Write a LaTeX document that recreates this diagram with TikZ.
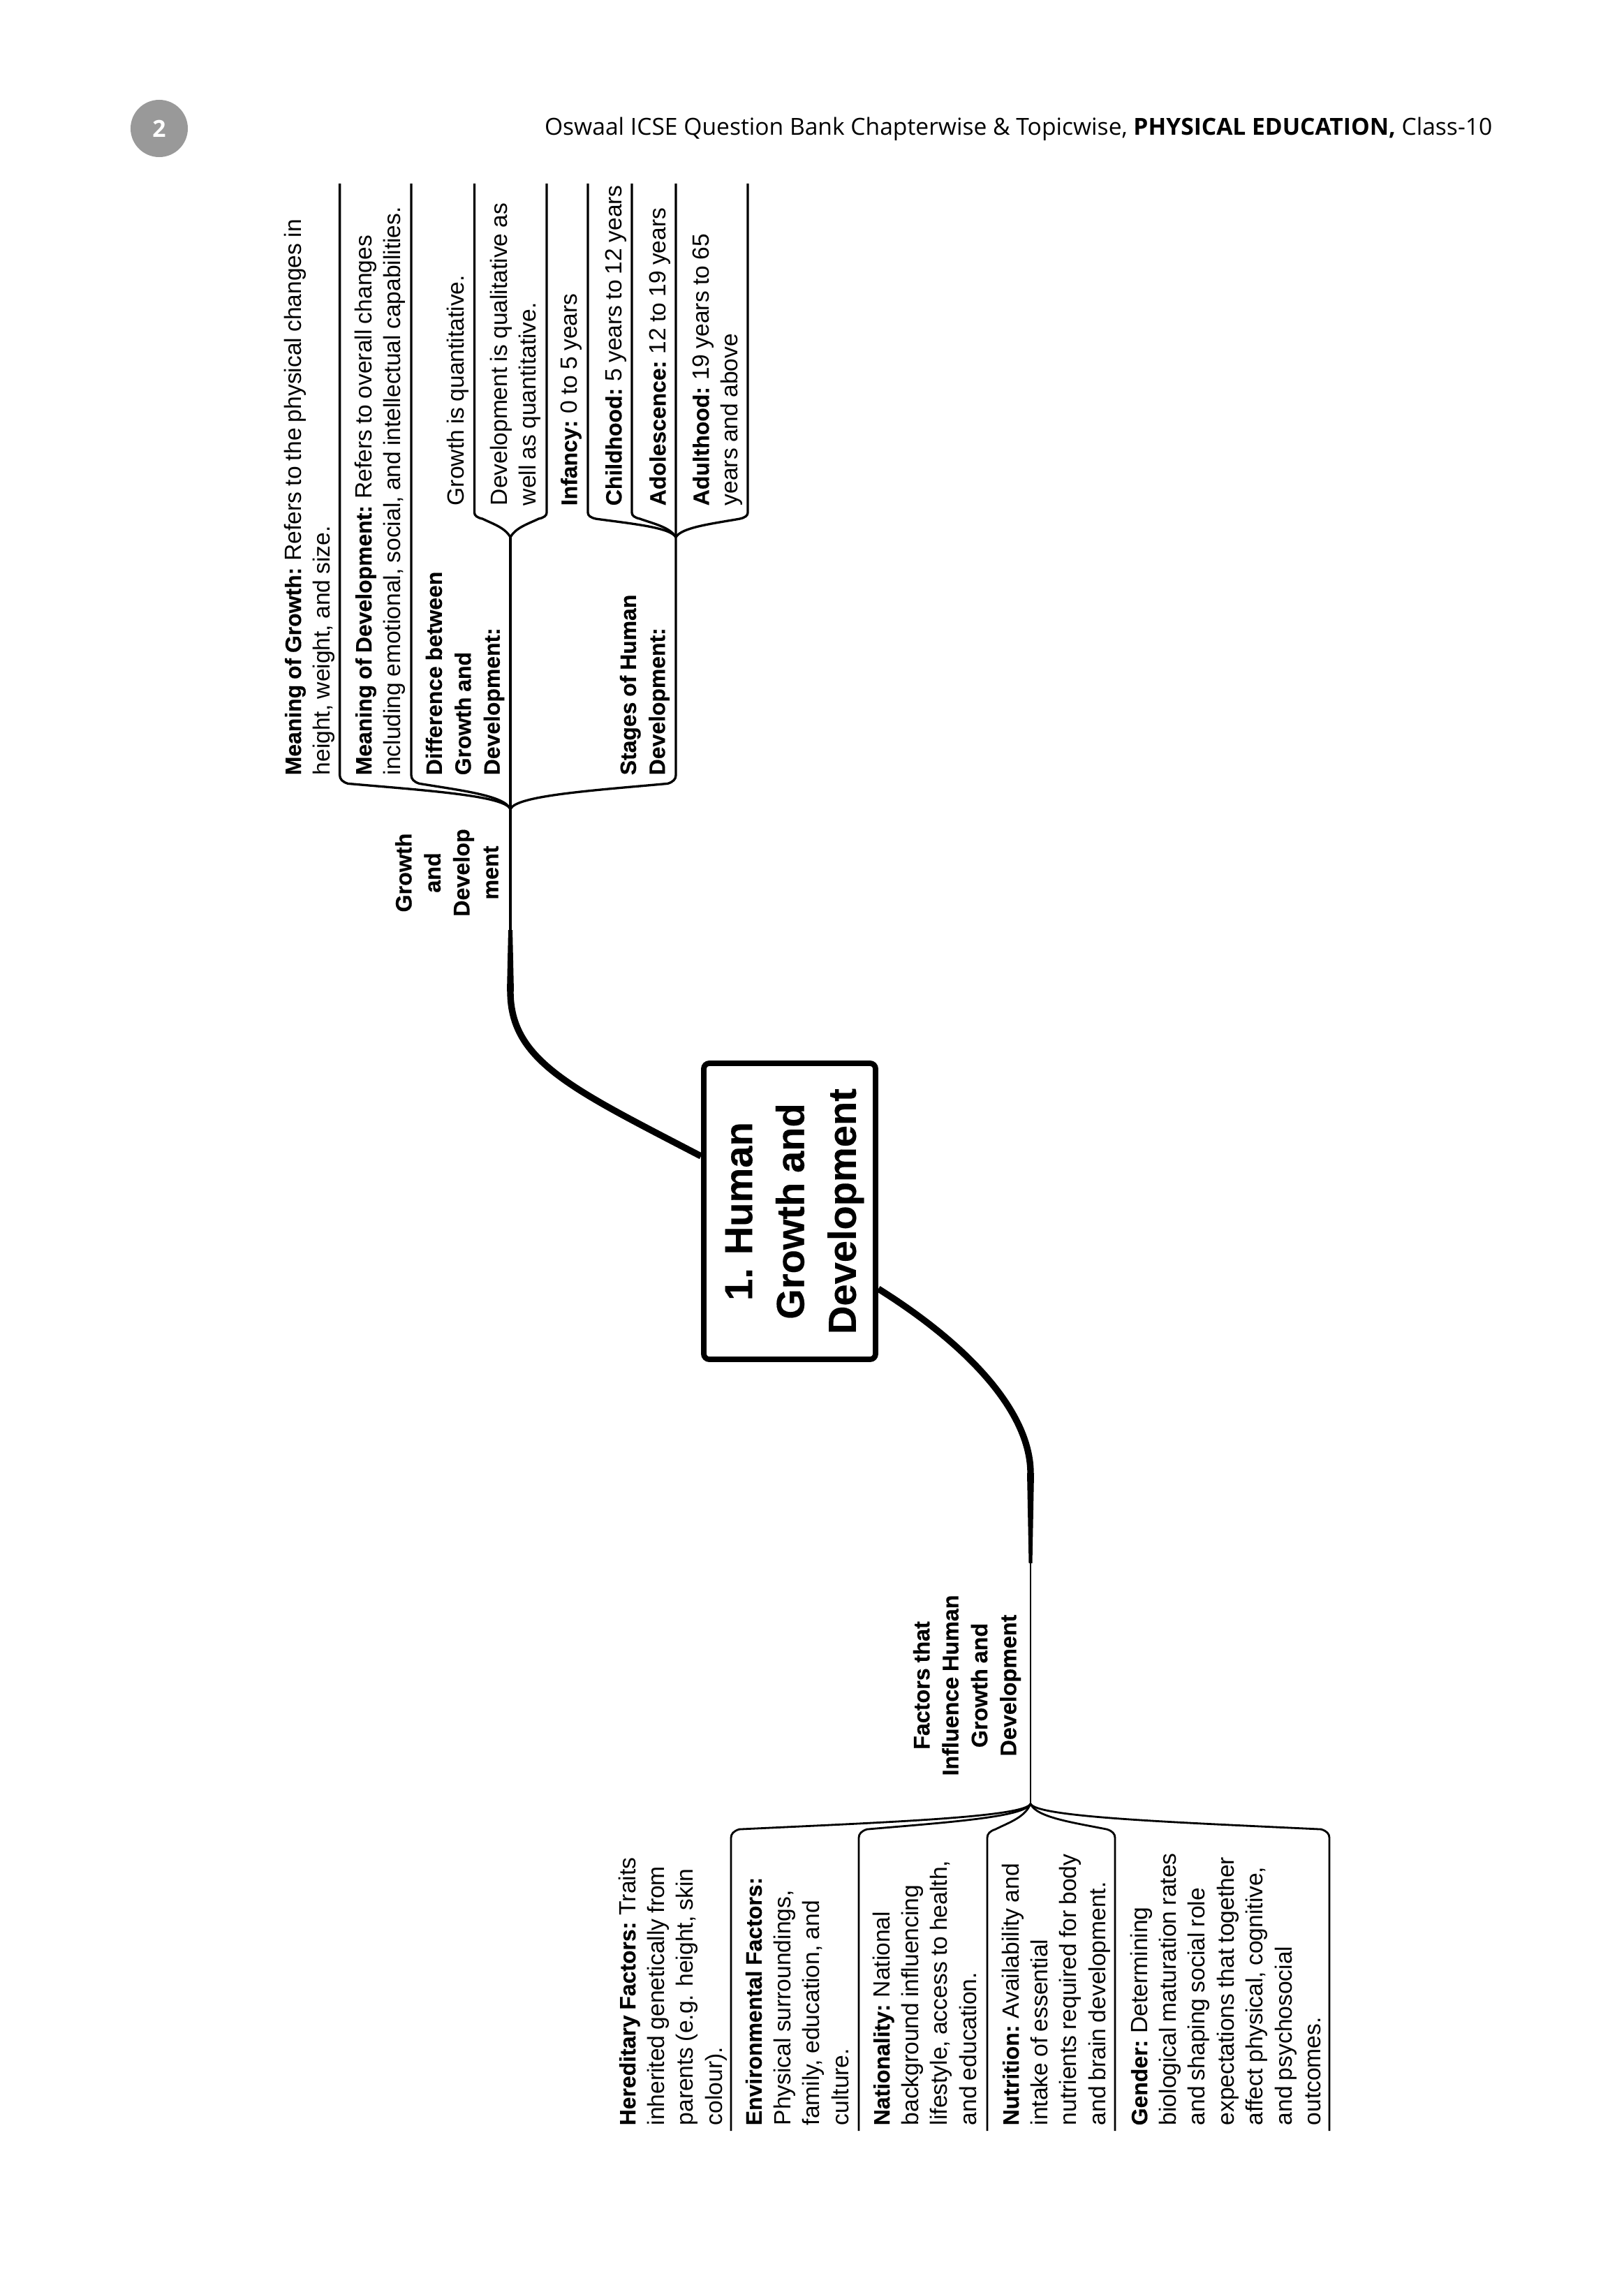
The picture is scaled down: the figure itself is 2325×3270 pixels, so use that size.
\documentclass[tikz,border=0pt]{standalone}
\usepackage{fontspec}
\setmainfont{Liberation Sans}[WordSpace=0.88,BoldFeatures={Scale=0.95,FakeBold=0.3}]
\newfontfamily\headfont{Open Sans}
\usetikzlibrary{calc}

\tikzset{
  branch/.style = {line width=0.85pt, line join=round},
  lowbranch/.style = {line width=0.72pt, line join=round},
  stem/.style = {line width=1.1pt},
  trunk/.style = {line width=2.4pt},
  leaf/.style = {rotate=90, anchor=north west, align=left, inner sep=0pt,
      font=\fontsize{8.6}{10.6}\selectfont},
  head/.style = {rotate=90, anchor=center, align=center, inner sep=0pt,
      font=\fontsize{8.7}{10.6}\selectfont\bfseries},
  title/.style = {rotate=90, draw, line width=2pt, rounded corners=2pt, align=center,
      anchor=center, inner sep=0pt, minimum width=424*0.256pt, minimum height=246*0.256pt,
      font=\fontsize{15.1}{19}\selectfont\bfseries},
}

\newcommand{\lab}[1]{\textbf{#1}\hspace{-0.5pt}}

\newcommand{\fork}[4]{%
  \draw[#4] let \p1=(#1), \p2=(#2), \n1={sign(\x2-\x1)} in
    (\p1) .. controls ({\x1+\n1*2pt},{\y1+0.4*(#3)}) and ({0.5*\x1+0.5*\x2},{\y1+0.55*(#3)})
    .. ({\x2-\n1*3pt},{\y1+0.75*(#3)})
    .. controls ({\x2-\n1*1pt},{\y1+0.8*(#3)}) and (\x2,{\y1+0.88*(#3)})
    .. (\x2,{\y1+(#3)}) -- (\p2);}

\begin{document}
\begin{tikzpicture}[x=0.256pt, y=-0.256pt]
  \useasboundingbox (0,0) rectangle (2325,3270);

  % page head
  \node (pagenum) at (228,184) [circle, fill=black!40, text=white, inner sep=0pt,
    minimum size=21pt, font=\headfont\fontsize{8.6}{11}\selectfont\bfseries] {2};
  \node (runhead) at (2138,185) [anchor=east, inner sep=0pt,
    font=\headfont\fontsize{8.6}{11}\selectfont]
    {Oswaal ICSE Question Bank Chapterwise \& Topicwise, \textbf{PHYSICAL EDUCATION,} Class-10};

  % centre and the two big stems
  \node (centre) at (1131,1735) [title] {\rule{0pt}{13.5pt}1. Human\\Growth and\\Development};
  \coordinate (upjoin) at (731,1159);
  \coordinate (diffjoin) at (731,769.5);
  \coordinate (stagejoin) at (968,769.5);
  \coordinate (lowjoin) at (1476,2583.5);
  \coordinate (upbend) at (731,1420);
  \coordinate (lowbend) at (1476,2110);
  \coordinate (upout) at (1004,1656);
  \coordinate (lowout) at (1258,1846);

  \draw[trunk] (upout) .. controls (820,1560) and (731,1520) .. (upbend);
  \draw[trunk] (lowout) .. controls (1400,1935) and (1476,2030) .. (lowbend);
  \fill (726,1420) -- (728,1332) -- (734,1332) -- (736,1420) -- cycle;
  \fill (1471,2110) -- (1473.5,2239) -- (1478.5,2239) -- (1481,2110) -- cycle;
  \draw[stem] (upjoin) -- (upbend);
  \draw[branch] (upjoin) -- (diffjoin);
  \draw[lowbranch] (lowjoin) -- (lowbend);

  % ends of the brackets
  \foreach \nm/\xpos in {topa/486.6, topb/589, topc/968, diffa/679.5, diffb/783,
      stagea/842, stageb/905, stagec/1071}
    \coordinate (\nm) at (\xpos,263);
  \foreach \nm/\xpos in {lowa/1047, lowb/1230, lowc/1414, lowd/1597, lowe/1904}
    \coordinate (\nm) at (\xpos,3052);

  \foreach \nm in {topa,topb,topc}
    \fork{upjoin}{\nm}{12.5pt}{branch};
  \foreach \nm in {diffa,diffb}
    \fork{diffjoin}{\nm}{9pt}{branch};
  \foreach \nm in {stagea,stageb,stagec}
    \fork{stagejoin}{\nm}{9pt}{branch};
  \foreach \nm in {lowa,lowb,lowc,lowd,lowe}
    \fork{lowjoin}{\nm}{-12.5pt}{lowbranch};

  % upper branch
  \node (growthhead) at (640,1250) [head] {Growth\\and\\Develop\\ment};
  \node (mgrowth) at (406,1111) [leaf] {\lab{Meaning of Growth:} Refers to the physical changes in\\height, weight, and size.};
  \node (mdevel) at (507,1111) [leaf] {\lab{Meaning of Development:} Refers to overall changes\\including emotional, social, and intellectual capabilities.};
  \node (diffhead) at (609,1111) [leaf] {\textbf{Difference between}\\\textbf{Growth and}\\\textbf{Development:}};
  \node (quant) at (639,725) [leaf] {Growth is quantitative.};
  \node (qual) at (701,725) [leaf] {Development is qualitative as\\well as quantitative.};
  \node (stagehead) at (887,1111) [leaf] {\textbf{Stages of Human}\\\textbf{Development:}};
  \node (infancy) at (802,725) [leaf] {\lab{Infancy:} 0 to 5 years};
  \node (child) at (866,725) [leaf] {\lab{Childhood:} 5 years to 12 years};
  \node (adoles) at (929,725) [leaf] {\lab{Adolescence:} 12 to 19 years};
  \node (adult) at (991,725) [leaf] {\lab{Adulthood:} 19 years to 65\\years and above};

  % lower branch
  \node (factorhead) at (1385,2414) [head] {Factors that\\Influence Human\\Growth and\\Development};
  \node (hered) at (885,3045) [leaf] {\lab{Hereditary Factors:} Traits\\inherited genetically from\\parents (e.g. height, skin\\colour).};
  \node (envir) at (1067,3045) [leaf] {\textbf{Environmental Factors:}\\Physical surroundings,\\family, education, and\\culture.};
  \node (natio) at (1249,3045) [leaf] {\lab{Nationality:} National\\background influencing\\lifestyle, access to health,\\and education.};
  \node (nutri) at (1434,3045) [leaf] {\lab{Nutrition:} Availability and\\intake of essential\\nutrients required for body\\and brain development.};
  \node (gender) at (1618,3045) [leaf] {\lab{Gender:} Determining\\biological maturation rates\\and shaping social role\\expectations that together\\affect physical, cognitive,\\and psychosocial\\outcomes.};

\end{tikzpicture}
\end{document}
